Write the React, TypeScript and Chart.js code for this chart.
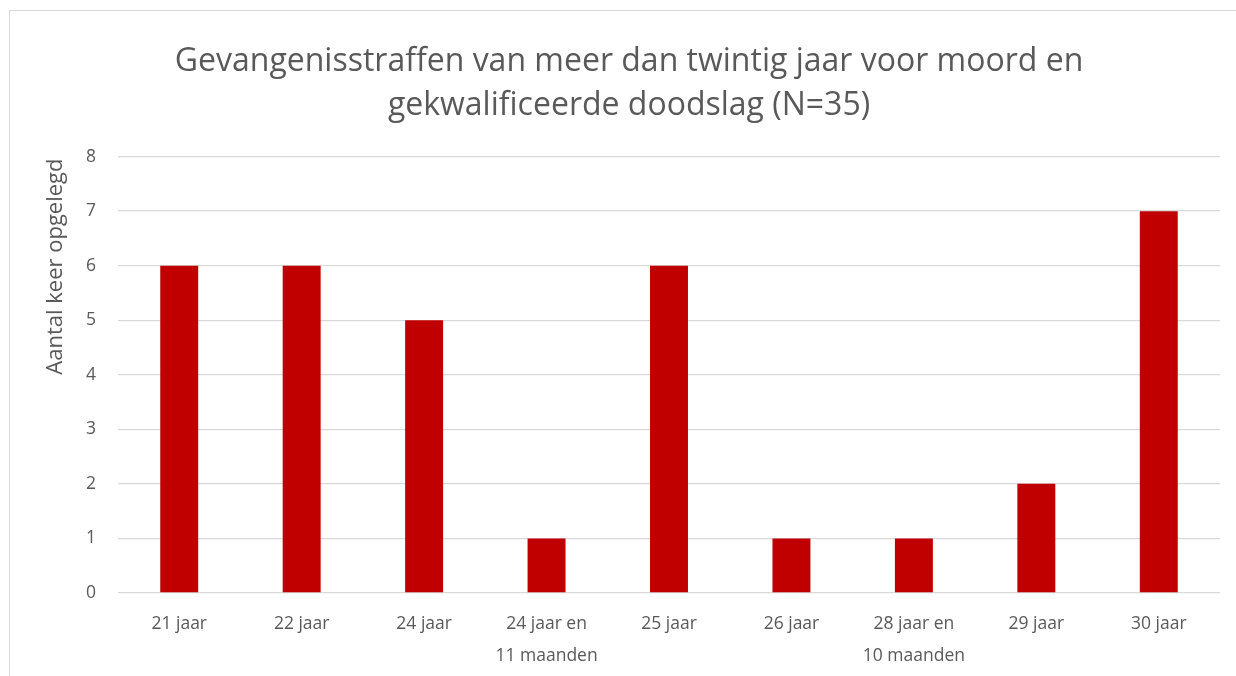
import React, { useEffect, useRef } from "react";
import { Chart, registerables } from "chart.js";

Chart.register(...registerables);

const categories: (string | string[])[] = [
  "21 jaar",
  "22 jaar",
  "24 jaar",
  ["24 jaar en", "11 maanden"],
  "25 jaar",
  "26 jaar",
  ["28 jaar en", "10 maanden"],
  "29 jaar",
  "30 jaar",
];
const counts: number[] = [6, 6, 5, 1, 6, 1, 1, 2, 7];
const titleLines: string[] = [
  "Gevangenisstraffen van meer dan twintig jaar voor moord en",
  "gekwalificeerde doodslag (N=35)",
];
const yAxisTitle = "Aantal keer opgelegd";

const FONT = "'Open Sans', sans-serif";
const GREY = "#595959";

const yTitlePlugin = {
  id: "yTitlePlugin",
  afterDraw(chart: any) {
    const { ctx, chartArea } = chart;
    ctx.save();
    ctx.font = `22px ${FONT}`;
    ctx.fillStyle = GREY;
    ctx.textAlign = "center";
    ctx.textBaseline = "middle";
    ctx.translate(46, chartArea.top + 110);
    ctx.rotate(-Math.PI / 2);
    ctx.fillText(yAxisTitle, 0, 0);
    ctx.restore();
  },
};

export default function App() {
  const ref = useRef<HTMLCanvasElement | null>(null);
  useEffect(() => {
    document.body.style.margin = "0";
    document.body.style.overflow = "hidden";
    const chart = new Chart(ref.current!, {
      type: "bar",
      data: {
        labels: categories,
        datasets: [
          {
            data: counts,
            backgroundColor: "#C00000",
            barPercentage: 0.31,
            categoryPercentage: 1,
          },
        ],
      },
      plugins: [yTitlePlugin],
      options: {
        animation: false,
        responsive: false,
        maintainAspectRatio: false,
        layout: { padding: { left: 28, right: 16, top: 0, bottom: 0 } },
        plugins: {
          legend: { display: false },
          tooltip: { enabled: false },
          title: {
            display: true,
            text: titleLines,
            color: GREY,
            font: { family: FONT, size: 32, weight: "normal", lineHeight: 1.4 },
            padding: { top: 28, bottom: 28 },
          },
        },
        scales: {
          x: {
            grid: { display: false },
            border: { display: false },
            ticks: {
              color: GREY,
              font: { family: FONT, size: 17.5, lineHeight: 1.83 },
              maxRotation: 0,
              autoSkip: false,
              padding: 7,
            },
          },
          y: {
            min: 0,
            max: 8,
            afterFit(scale: any) {
              scale.width = 80;
            },
            ticks: {
              stepSize: 1,
              color: GREY,
              font: { family: FONT, size: 17.5 },
              padding: 22,
            },
            grid: { color: "#d9d9d9", lineWidth: 1.3, drawTicks: false },
            border: { display: false },
          },
        },
      },
    });
    return () => chart.destroy();
  }, []);
  return (
    <div
      style={{
        position: "absolute",
        left: 9,
        top: 10,
        width: 1240,
        height: 680,
        borderLeft: "1.5px solid #d9d9d9",
        borderTop: "1.5px solid #d9d9d9",
        boxSizing: "border-box",
        background: "#fff",
        overflow: "hidden",
      }}
    >
      <canvas ref={ref} width={1226} height={668} style={{ display: "block" }} />
    </div>
  );
}
